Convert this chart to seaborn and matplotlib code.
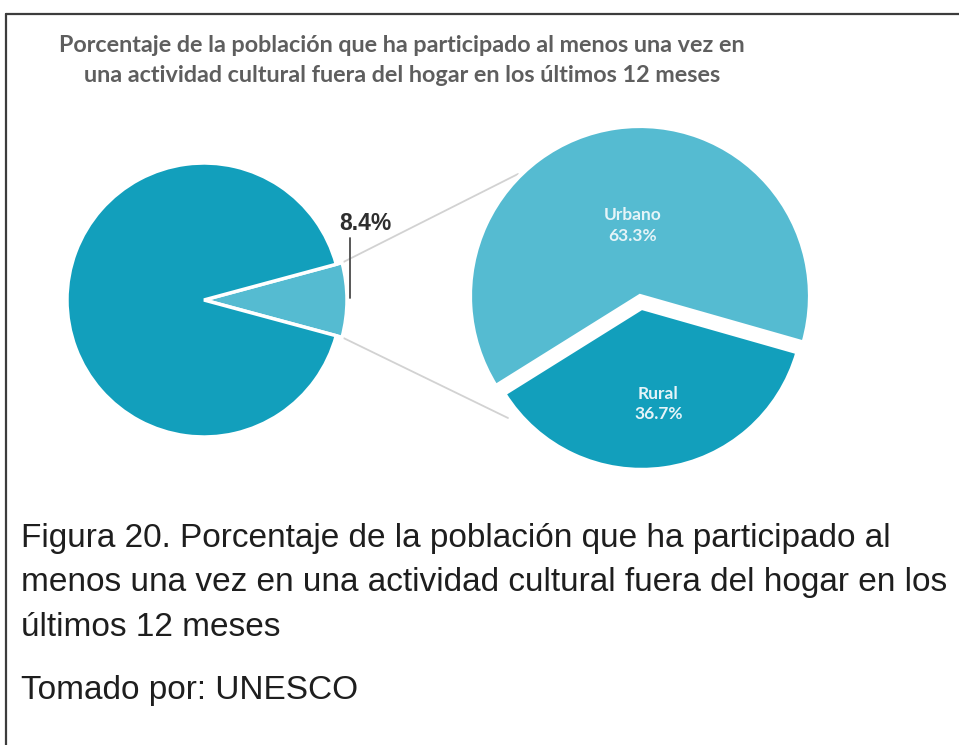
import matplotlib
matplotlib.use("Agg")
import matplotlib.pyplot as plt
import seaborn as sns
import numpy as np

# Share of the population with at least one cultural activity outside the home
participation_labels = ["Participó", "No participó"]
participation_values = [8.4, 91.6]

# Breakdown of participants by area
area_labels = ["Urbano", "Rural"]
area_values = [63.3, 36.7]

title_lines = [
    "Porcentaje de la población que ha participado al menos una vez en",
    "una actividad cultural fuera del hogar en los últimos 12 meses",
]
caption_lines = [
    "Figura 20. Porcentaje de la población que ha participado al",
    "menos una vez en una actividad cultural fuera del hogar en los",
    "últimos 12 meses",
]
source_text = "Tomado por: UNESCO"

sns.set_theme(style="white")
palette = sns.color_palette(["#55bbd1", "#129fbc"])
teal_light, teal_dark = palette[0], palette[1]

W, H = 959, 745
fig = plt.figure(figsize=(W / 100, H / 100), dpi=100)
ax = fig.add_axes([0, 0, 1, 1])


def Y(y):
    """Convert a top-down pixel row into the axes' bottom-up coordinate."""
    return H - y


# ---- left pie: whole population -------------------------------------------
left_center = (204, Y(300))
left_r = 137
start_left = -participation_values[0] / 100 * 360 / 2
wedges_l, _ = ax.pie(
    participation_values,
    colors=[teal_light, teal_dark],
    startangle=start_left,
    counterclock=True,
    center=left_center,
    radius=left_r,
    wedgeprops=dict(edgecolor="white", linewidth=2.5),
)
small = wedges_l[0]
small.set_radius(left_r + 6)

# corners of the highlighted slice
rs = small.r
t1, t2 = np.deg2rad(small.theta1), np.deg2rad(small.theta2)
cx, cy = small.center
top_corner = (cx + rs * np.cos(t2), cy + rs * np.sin(t2))
bot_corner = (cx + rs * np.cos(t1), cy + rs * np.sin(t1))

# ---- right pie: urban / rural ---------------------------------------------
right_center = (640, Y(296))
right_r = 170
start_right = 344.1 - 360
wedges_r, _ = ax.pie(
    area_values,
    colors=[teal_light, teal_dark],
    startangle=start_right,
    counterclock=True,
    center=right_center,
    radius=right_r,
    explode=[0, 12],
    wedgeprops=dict(edgecolor="white", linewidth=3),
)
wedges_r[1].set_radius(162)

# connector lines between the two pies
ax.plot([top_corner[0], 518], [top_corner[1], Y(174)], color="#d2d2d2", lw=1.3, zorder=0)
ax.plot([bot_corner[0], 508], [bot_corner[1], Y(418)], color="#d2d2d2", lw=1.3, zorder=0)

# labels inside the right pie
label_dist = [0.42, 0.6]
for w, name, val, d in zip(wedges_r, area_labels, area_values, label_dist):
    mid = np.deg2rad((w.theta1 + w.theta2) / 2)
    wx, wy = w.center
    ax.text(wx + d * w.r * np.cos(mid) + 3, wy + d * w.r * np.sin(mid),
            f"{name}\n{val:.1f}%", ha="center", va="center",
            color="#e6f4f8", fontsize=12.5, fontweight="bold",
            family="Lato", linespacing=1.35, zorder=5)

# value label for the highlighted slice
ax.plot([350, 350], [Y(298), Y(238)], color="#4a4a4a", lw=1.3, zorder=4)
ax.text(365, Y(223), f"{participation_values[0]:.1f}%", ha="center", va="center",
        color="#2e2e2e", fontsize=16.5, fontweight="bold", family="Liberation Sans")

# chart title
for i, line in enumerate(title_lines):
    ax.text(402, Y(45 + 31 * i), line, ha="center", va="center",
            color="#5e5e5e", fontsize=16.8, fontweight="bold", family="Lato")

# caption below the chart
for i, line in enumerate(caption_lines):
    ax.text(21, Y(538 + 45 * i), line, ha="left", va="center",
            color="#1e1e1e", fontsize=24, family="Liberation Sans")
ax.text(21, Y(690), source_text, ha="left", va="center",
        color="#1e1e1e", fontsize=24, family="Liberation Sans")

# frame lines (top and left)
ax.plot([6, W], [Y(14), Y(14)], color="#3c3c3c", lw=1.6, clip_on=False)
ax.plot([6, 6], [Y(14), 0], color="#3c3c3c", lw=1.6, clip_on=False)

ax.set_xlim(0, W)
ax.set_ylim(0, H)
ax.set_aspect("auto")
ax.axis("off")

fig.savefig("out.png", dpi=100, facecolor="white")
